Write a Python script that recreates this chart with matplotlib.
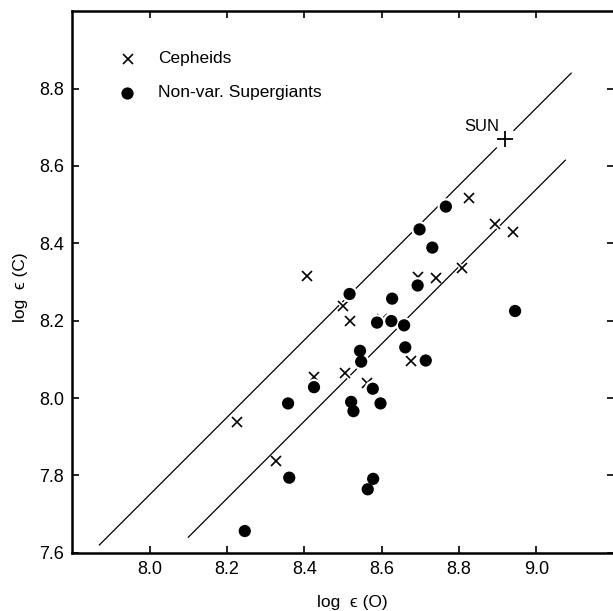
import matplotlib
matplotlib.use("Agg")
import matplotlib.pyplot as plt
import matplotlib.patheffects as pe
import numpy as np

# Cepheids: log eps(O), log eps(C)
ceph_O = [8.826, 8.407, 8.499, 8.519, 8.600, 8.694, 8.741, 8.809, 8.894, 8.940,
          8.675, 8.504, 8.562, 8.426, 8.225, 8.327]
ceph_C = [8.518, 8.316, 8.238, 8.199, 8.205, 8.314, 8.311, 8.335, 8.450, 8.430,
          8.096, 8.065, 8.040, 8.054, 7.937, 7.837]

# Non-variable supergiants
sg_O = [8.766, 8.698, 8.731, 8.693, 8.517, 8.627, 8.588, 8.625, 8.658, 8.661,
        8.544, 8.547, 8.714, 8.945, 8.425, 8.577, 8.358, 8.521, 8.597, 8.527,
        8.361, 8.578, 8.564, 8.246]
sg_C = [8.495, 8.436, 8.389, 8.291, 8.269, 8.257, 8.195, 8.199, 8.188, 8.131,
        8.122, 8.094, 8.097, 8.225, 8.028, 8.024, 7.986, 7.990, 7.986, 7.966,
        7.794, 7.791, 7.764, 7.656]

# Solar abundances
sun_O, sun_C = 8.92, 8.67

# Reference lines of slope one: C = O + offset
upper_O = [7.87, 9.09]
upper_offset = -0.25
lower_O = [8.10, 9.075]
lower_offset = -0.46

xticks = [8.0, 8.2, 8.4, 8.6, 8.8, 9.0]
yticks = [7.6, 7.8, 8.0, 8.2, 8.4, 8.6, 8.8]

plt.rcParams['font.family'] = ['Liberation Sans', 'DejaVu Sans']

fig = plt.figure(figsize=(6.13, 6.11), dpi=100)
ax = fig.add_axes([72.3 / 613, (611 - 552.7) / 611, 541.4 / 613, 541.4 / 611])

halo = [pe.Stroke(linewidth=3.2, foreground='white'), pe.Normal()]

for xs, off in ((upper_O, upper_offset), (lower_O, lower_offset)):
    xs = np.array(xs)
    ax.plot(xs, xs + off, color='black', lw=0.9, zorder=1)

ax.plot(ceph_O, ceph_C, linestyle='none', marker='x', ms=7.2, mew=1.2,
        color='black', zorder=3, path_effects=halo)
ax.plot(sg_O, sg_C, linestyle='none', marker='o', ms=8.8, mew=0,
        color='black', zorder=4, path_effects=halo)

# Sun symbol with a clear area around it
ax.plot([sun_O], [sun_C], linestyle='none', marker='o', ms=17, mew=0,
        color='white', zorder=2)
ax.plot([sun_O], [sun_C], linestyle='none', marker='+', ms=12, mew=1.3,
        color='black', zorder=5)
ax.text(sun_O - 0.016, sun_C + 0.012, 'SUN', fontsize=12, ha='right', va='bottom')

# Legend
ax.plot([7.944], [8.877], linestyle='none', marker='x', ms=7.2, mew=1.2, color='black')
ax.plot([7.942], [8.789], linestyle='none', marker='o', ms=8.8, mew=0, color='black')
ax.text(8.021, 8.877, 'Cepheids', fontsize=12.5, va='center', ha='left')
ax.text(8.021, 8.789, 'Non-var. Supergiants', fontsize=12.5, va='center', ha='left')

ax.set_xlim(7.8, 9.2)
ax.set_ylim(7.6, 9.0)
ax.set_xticks(xticks)
ax.set_yticks(yticks)
ax.set_xticklabels([f'{v:.1f}' for v in xticks])
ax.set_yticklabels([f'{v:.1f}' for v in yticks])
ax.tick_params(direction='in', length=5, width=1.2, top=True, right=True,
               labelsize=13, pad=6)
for s in ax.spines.values():
    s.set_linewidth(1.8)

fig.text(352 / 613, 1 - 603 / 611, 'log  ϵ (O)', fontsize=12.5, ha='center', va='center')
fig.text(20 / 613, 1 - 287 / 611, 'log  ϵ (C)', fontsize=12.5, ha='center', va='center',
         rotation=90)

fig.savefig('out.png', dpi=100)
